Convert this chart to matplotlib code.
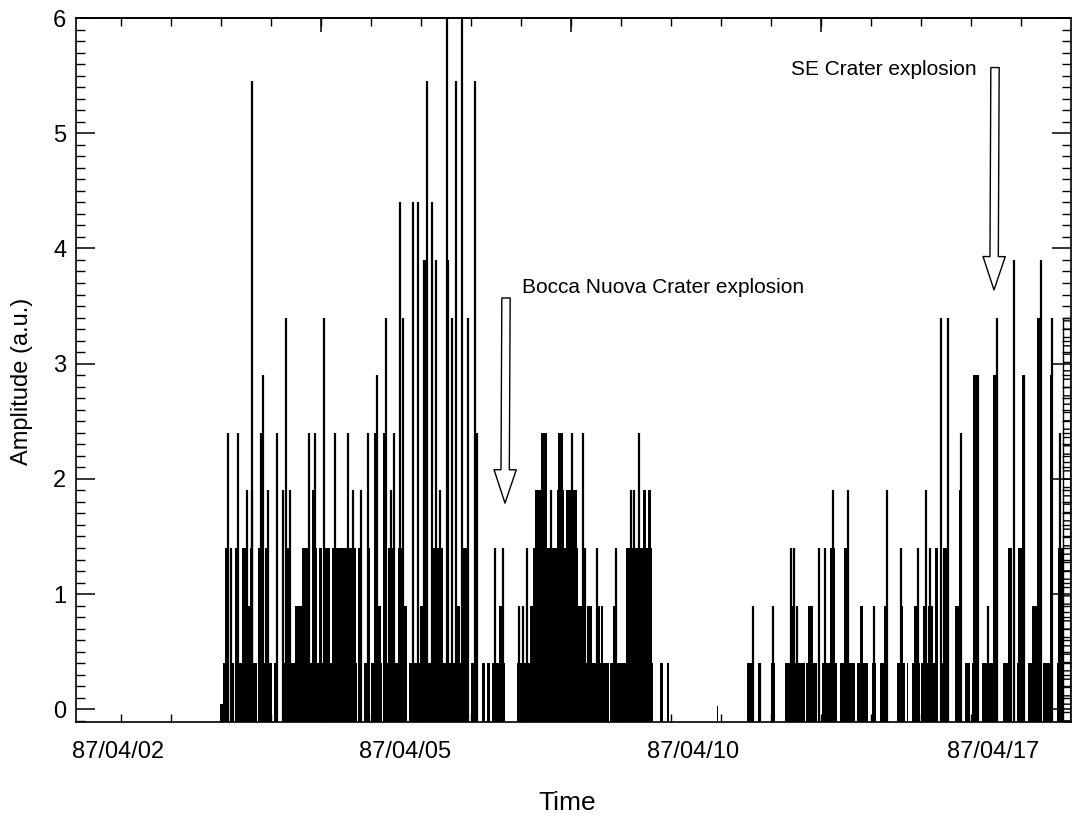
import matplotlib
matplotlib.use("Agg")
import matplotlib.pyplot as plt
from matplotlib.ticker import MultipleLocator, FixedLocator
import numpy as np

plt.rcParams['font.family'] = ['Liberation Sans', 'DejaVu Sans']
plt.rcParams['hatch.linewidth'] = 1.0

# ---------------- data (time index, amplitude in a.u.) ----------------
date_labels = ['87/04/02', '87/04/05', '87/04/10', '87/04/17']
date_pos = [-3, 284, 572, 872]

# wide low blocks
base_start = [99, 102, 114, 138, 147, 153, 162, 233, 238, 243, 250, 258, 263, 288, 293, 303,
              337, 343, 350, 361, 366, 371,
              396, 463, 489, 496, 539, 546, 596,
              626, 637, 650, 664, 685, 701, 719, 736, 751, 759, 776, 786, 791, 800, 819,
              834, 844, 851, 861, 867, 882, 896, 907, 922, 936]
base_end = [102, 107, 136, 145, 151, 157, 231, 236, 241, 248, 256, 261, 286, 291, 301, 335,
            341, 348, 357, 364, 369, 384,
            462, 488, 494, 532, 542, 548, 597,
            632, 639, 654, 684, 696, 716, 734, 747, 755, 766, 784, 787, 799, 816, 826,
            839, 849, 856, 866, 874, 889, 902, 912, 931, 942]
base_height = [0.05, 0.4, 0.4, 0.4, 0.4, 0.4, 0.4, 0.4, 0.4, 0.4, 0.4, 0.4, 0.4, 0.4, 0.4, 0.4,
               0.4, 0.4, 0.4, 0.4, 0.4, 0.4,
               0.4, 0.4, 0.4, 0.4, 0.4, 0.4, 0.03,
               0.4, 0.4, 0.4, 0.4, 0.4, 0.4, 0.4, 0.4, 0.4, 0.4, 0.4, 0.4, 0.4, 0.4, 0.4,
               0.4, 0.4, 0.4, 0.4, 0.4, 0.4, 0.4, 0.4, 0.4, 0.4]

# medium-width blocks
mid_start = [104, 114, 121, 129, 137, 144, 166, 181, 191, 198, 203, 211, 228, 237, 246, 267, 277, 312, 342, 354,
             127, 174, 256, 282, 299, 316, 334, 378,
             191, 353, 253, 262, 304,
             409, 466, 477, 480, 492, 412, 505, 414, 436, 445, 522, 527, 420, 437,
             669, 687, 739, 763, 779, 793, 802, 807, 834, 911, 866,
             709, 723, 814, 822, 887, 897, 937,
             838, 826, 852, 872, 901, 929, 916]
mid_end = [108, 117, 126, 132, 140, 147, 169, 189, 196, 201, 209, 226, 235, 241, 249, 274, 282, 322, 346, 357,
           132, 184, 260, 286, 306, 321, 339, 382,
           194, 357, 256, 264, 306,
           464, 471, 479, 482, 494, 457, 531, 426, 443, 456, 525, 530, 426, 442,
           674, 692, 742, 766, 782, 796, 806, 812, 839, 916, 868,
           714, 726, 817, 827, 891, 902, 942,
           840, 828, 857, 876, 904, 932, 919]
mid_height = [1.4, 1.4, 1.4, 1.4, 1.4, 1.4, 1.4, 1.4, 1.4, 1.4, 1.4, 1.4, 1.4, 1.4, 1.4, 1.4, 1.4, 1.4, 1.4, 1.4,
              0.9, 0.9, 0.9, 0.9, 0.9, 0.9, 0.9, 0.9,
              1.9, 2.4, 2.4, 2.4, 3.9,
              0.9, 0.9, 0.9, 0.9, 0.9, 1.4, 1.4, 1.9, 1.9, 1.9, 1.9, 1.9, 2.4, 2.4,
              0.9, 0.9, 0.9, 0.9, 0.9, 0.9, 0.9, 0.9, 0.9, 0.9, 0.9,
              1.4, 1.4, 1.4, 1.4, 1.4, 1.4, 1.4,
              1.9, 2.9, 2.9, 2.9, 2.9, 2.9, 3.4]

# thin spikes
spike_time = [107, 110, 112, 117, 126, 131, 131, 140, 142, 147, 156, 162, 165, 169, 176, 188, 194, 203,
              214, 227, 232, 240, 247, 256, 265, 270, 273, 279, 282, 292, 297, 303, 306, 311, 315,
              319, 326, 327, 331, 335, 341, 347, 354, 356, 374, 382,
              398, 402, 406, 416, 430, 451, 454, 462, 464, 476, 495, 510, 513, 518,
              632, 639, 652, 670, 673, 676, 698, 704, 712, 727, 753, 766, 780, 797, 805, 809,
              820, 827, 840, 857, 867, 876, 893, 903, 920, 931, 939]
spike_height = [2.4, 1.4, 0.4, 2.4, 1.9, 5.45, 1.9, 2.4, 2.9, 1.9, 2.4, 1.9, 3.4, 1.9, 0.9, 2.4, 2.4, 3.4,
                2.4, 2.4, 1.9, 1.9, 2.4, 2.9, 3.4, 1.9, 2.4, 4.4, 3.4, 4.4, 4.4, 3.9, 5.45, 4.4, 3.9,
                1.9, 6.5, 3.9, 3.4, 5.45, 6.5, 3.4, 5.45, 2.4, 1.4, 1.4,
                0.9, 0.9, 1.4, 1.9, 1.9, 2.4, 1.9, 2.4, 1.4, 1.4, 1.4, 1.9, 1.9, 2.4,
                0.9, 0.4, 0.9, 1.4, 1.4, 0.9, 1.4, 1.4, 1.9, 1.9, 0.9, 1.9, 1.4, 1.4, 1.9, 1.4,
                3.4, 3.4, 2.4, 2.9, 0.9, 3.4, 3.9, 2.9, 3.9, 3.4, 2.4]

# hatched column at the right edge
hatch_start = [942]
hatch_end = [951]
hatch_height = [3.4]

# annotations
notes = ['Bocca Nuova Crater explosion', 'SE Crater explosion']
note_text_xy = [(542, 3.66), (763, 5.55)]
note_arrow_tail = [(385, 3.57), (874, 5.57)]
note_arrow_tip = [(384, 1.79), (873, 3.64)]

Y_MIN, Y_MAX = -0.11, 6.0
X_MIN, X_MAX = -45, 950

# ---------------- figure ----------------
fig = plt.figure(figsize=(10.72, 8.18), dpi=100)
ax = fig.add_axes([76 / 1072, 1 - 722 / 818, (1071 - 76) / 1072, (722 - 18) / 818])

bs = np.array(base_start, float); be = np.array(base_end, float); bh = np.array(base_height)
ax.bar(bs, bh - Y_MIN, width=be - bs, bottom=Y_MIN, align='edge', color='black', linewidth=0)

ms = np.array(mid_start, float); me = np.array(mid_end, float); mh = np.array(mid_height)
ax.bar(ms, mh - Y_MIN, width=me - ms, bottom=Y_MIN, align='edge', color='black', linewidth=0)

ax.vlines(spike_time, Y_MIN, spike_height, color='black', linewidth=1.6)

hs = np.array(hatch_start, float); he = np.array(hatch_end, float); hh = np.array(hatch_height)
ax.bar(hs, hh - Y_MIN, width=he - hs, bottom=Y_MIN, align='edge', facecolor='white',
       edgecolor='black', hatch='++', linewidth=1.0)

for txt, txy, tail, tip in zip(notes, note_text_xy, note_arrow_tail, note_arrow_tip):
    ax.text(txy[0], txy[1], txt, ha='center', va='center', fontsize=15)
    ax.annotate('', xy=tip, xytext=tail,
                arrowprops=dict(arrowstyle='simple,head_length=24,head_width=16,tail_width=6',
                                mutation_scale=1, facecolor='white', edgecolor='black',
                                linewidth=1.0, shrinkA=0, shrinkB=0))

ax.set_xlim(X_MIN, X_MAX)
ax.set_ylim(Y_MIN, Y_MAX)

# y axis ticks
ax.set_yticks(range(0, 7))
ax.yaxis.set_minor_locator(MultipleLocator(0.1))
ax.tick_params(axis='y', which='major', direction='in', length=13.5, width=1.1,
               left=True, right=True, labelsize=17, pad=7)
ax.tick_params(axis='y', which='minor', direction='in', length=6.5, width=1.0,
               left=True, right=True)

# x axis ticks
ax.set_xticks(date_pos)
ax.set_xticklabels(date_labels)
ax.xaxis.set_minor_locator(FixedLocator(np.arange(0, X_MAX, 50)))
ax.tick_params(axis='x', which='major', length=0, labelsize=17, pad=14)
ax.tick_params(axis='x', which='minor', direction='in', length=6, width=1.0,
               bottom=True, top=True)

secax = ax.secondary_xaxis('top')
secax.set_xticks([200, 450, 700])
secax.set_xticklabels([])
secax.tick_params(axis='x', which='major', direction='in', length=10, width=1.1)
secax.tick_params(axis='x', which='minor', length=0)
secax.spines['top'].set_linewidth(1.2)

for sp in ax.spines.values():
    sp.set_linewidth(1.2)

fig.text(22 / 1072, 1 - 381 / 818, 'Amplitude (a.u.)', rotation=90, ha='center', va='center', fontsize=17)
fig.text(567 / 1072, 1 - 803 / 818, 'Time', ha='center', va='center', fontsize=19)

fig.savefig('out.png', dpi=100)
